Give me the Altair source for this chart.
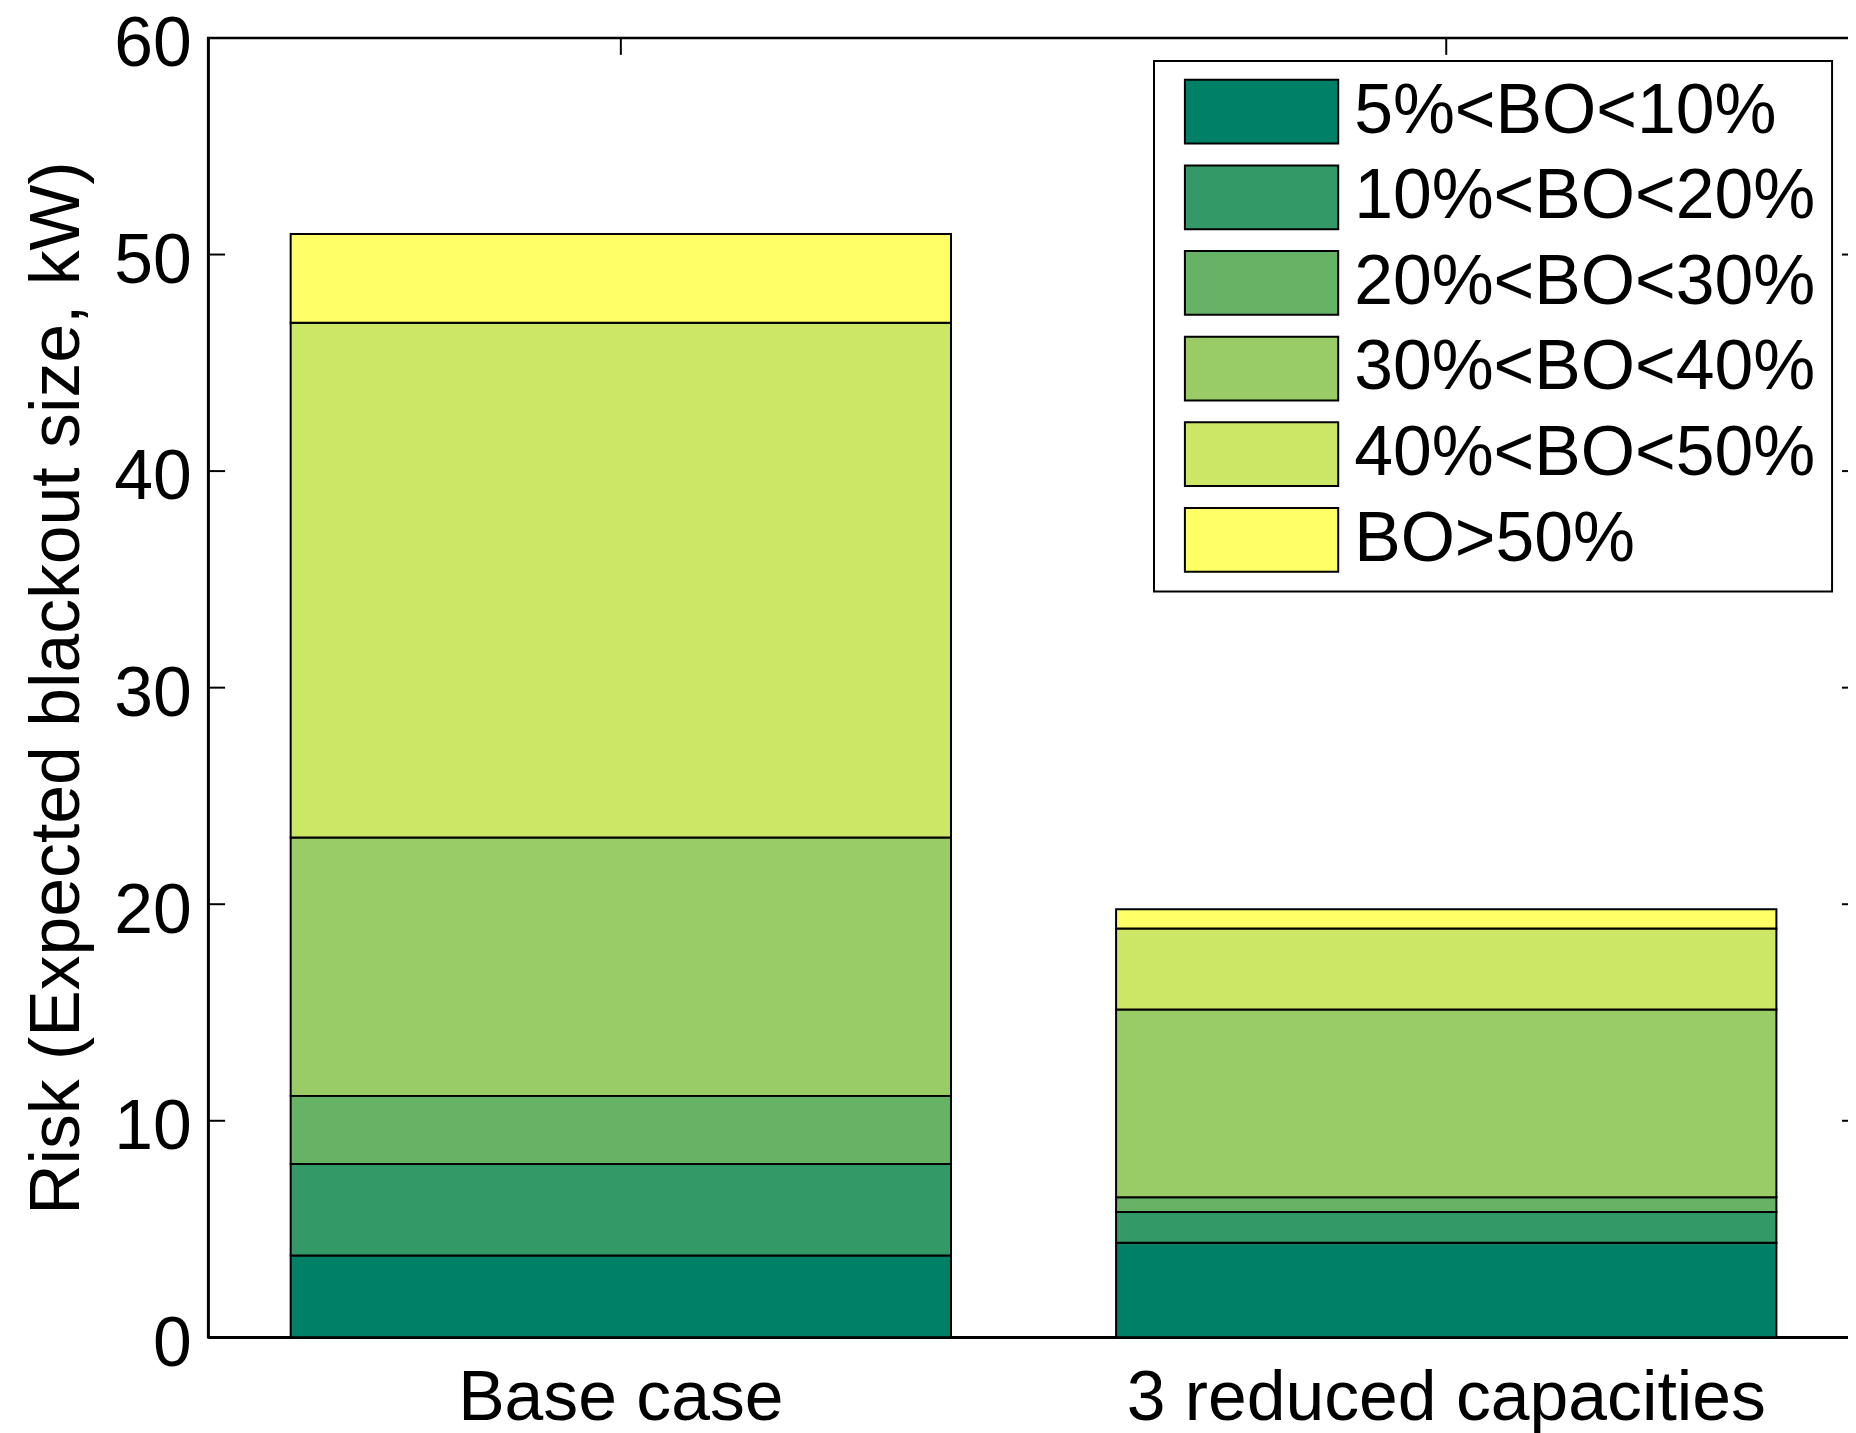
import altair as alt
import pandas as pd

categories = ["Base case", "3 reduced capacities"]
classes = ["5%<BO<10%", "10%<BO<20%", "20%<BO<30%", "30%<BO<40%", "40%<BO<50%", "BO>50%"]
base_values = [3.78, 4.22, 3.15, 11.93, 23.77, 4.10]
reduced_values = [4.37, 1.42, 0.68, 8.67, 3.74, 0.89]
colors = ["#008066", "#339966", "#66b366", "#99cc66", "#cce666", "#ffff66"]
y_ticks = [0, 10, 20, 30, 40, 50, 60]

rows = []
for cat, vals in zip(categories, [base_values, reduced_values]):
    for i, (cls, v) in enumerate(zip(classes, vals)):
        rows.append({"case": cat, "cls": cls, "order": i, "risk": v})
df = pd.DataFrame(rows)
tick_df = pd.DataFrame({"risk": y_ticks})
cat_df = pd.DataFrame({"case": categories})

W, H = 1658, 1305
FONT = "Liberation Sans"

x_scale = alt.Scale(domain=categories, paddingInner=0.2, paddingOuter=0.1)
y_scale = alt.Scale(domain=[0, 60], nice=False)

x_axis = alt.Axis(title=None, labelAngle=0, labelFontSize=70, labelFont=FONT,
                  labelColor="black", ticks=False, tickSize=0, labelPadding=28,
                  labelLimit=1200, domainColor="black", domainWidth=2.5)
y_axis = alt.Axis(title="Risk (Expected blackout size, kW)", values=y_ticks, grid=False,
                  ticks=False, tickSize=0, labelFontSize=70, labelFont=FONT,
                  labelColor="black", labelPadding=17, labelOffset=7,
                  titleFontSize=70, titleFont=FONT, titleFontWeight="normal",
                  titleColor="black", titlePadding=20, titleLimit=1400,
                  domainColor="black", domainWidth=2.5)

swatch = "M-2.406,-1L2.406,-1L2.406,1L-2.406,1Z"

bars = alt.Chart(df).mark_bar(stroke="black", strokeWidth=2).encode(
    x=alt.X("case:N", scale=x_scale, sort=categories, axis=x_axis),
    y=alt.Y("risk:Q", stack="zero", scale=y_scale, axis=y_axis),
    color=alt.Color("cls:N", scale=alt.Scale(domain=classes, range=colors),
                    legend=alt.Legend(title=None, orient="none", legendX=950, legendY=23,
                                      direction="vertical", symbolType=swatch, symbolSize=4096,
                                      symbolStrokeColor="black", symbolStrokeWidth=2,
                                      symbolOffset=57, symbolOpacity=1,
                                      labelFontSize=70, labelFont=FONT, labelColor="black",
                                      labelOffset=58, labelLimit=900, rowPadding=14,
                                      padding=16, strokeColor="black", fillColor="white")),
    order=alt.Order("order:Q", sort="ascending"),
)

left_ticks = alt.Chart(tick_df).mark_rule(color="black", strokeWidth=2).encode(
    y=alt.Y("risk:Q", scale=y_scale, axis=y_axis), x=alt.value(0), x2=alt.value(17))
right_ticks = alt.Chart(tick_df).mark_rule(color="black", strokeWidth=2).encode(
    y=alt.Y("risk:Q", scale=y_scale, axis=y_axis), x=alt.value(W - 17), x2=alt.value(W))
top_ticks = alt.Chart(cat_df).mark_rule(color="black", strokeWidth=2).encode(
    x=alt.X("case:N", scale=x_scale, sort=categories, axis=x_axis), y=alt.value(0), y2=alt.value(17))

chart = alt.layer(bars, left_ticks, right_ticks, top_ticks).properties(
    width=W, height=H,
    autosize=alt.AutoSizeParams(type="none"),
    padding={"left": 201, "top": 27, "right": -11, "bottom": 100},
    background="white",
).configure(font=FONT).configure_view(stroke="black", strokeWidth=2.5).configure_legend(strokeWidth=2)

chart.save("out.html", embed_options={"renderer": "svg", "actions": False})
